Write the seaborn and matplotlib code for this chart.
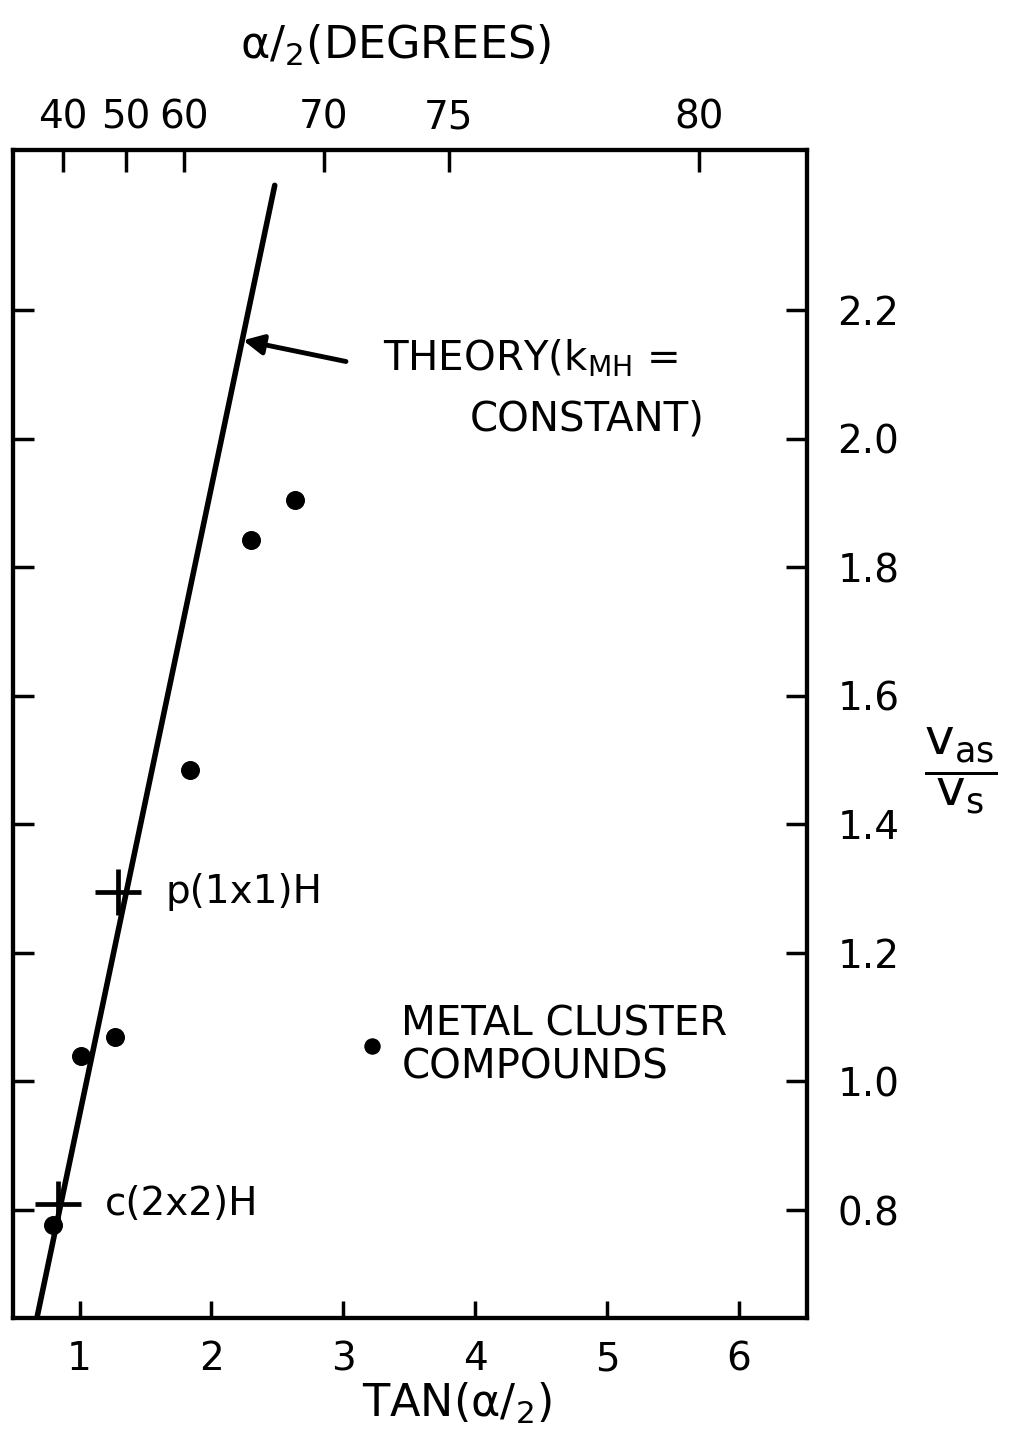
import numpy as np
import matplotlib
matplotlib.use("Agg")
import matplotlib.pyplot as plt
import seaborn as sns

# ---- data ----
tan_ticks = [1, 2, 3, 4, 5, 6]
ratio_ticks = [0.8, 1.0, 1.2, 1.4, 1.6, 1.8, 2.0, 2.2]
deg_ticks = [40, 50, 60, 70, 75, 80]
deg_tick_pos = [0.875, 1.35, 1.79, 2.85, 3.80, 5.70]   # where the degree ticks are drawn (tan scale)

theory_x = [0.675, 2.48]
theory_y = [0.63, 2.394]

metal_x = [0.80, 1.01, 1.27, 1.84, 2.30, 2.63]
metal_y = [0.777, 1.039, 1.069, 1.484, 1.842, 1.904]

surface_labels = ["c(2x2)H", "p(1x1)H"]
surface_x = [0.835, 1.29]
surface_y = [0.81, 1.294]

key_dot_x = [3.22]
key_dot_y = [1.055]

sns.set_style("ticks")
plt.rcParams["font.family"] = ["DejaVu Sans"]
plt.rcParams["mathtext.fontset"] = "dejavusans"
plt.rcParams["mathtext.default"] = "regular"
for k in ["text.color", "axes.labelcolor", "xtick.color", "ytick.color", "axes.edgecolor"]:
    plt.rcParams[k] = "black"

fig = plt.figure(figsize=(10.17, 14.30), dpi=100)
ax = fig.add_axes([0.0128, 0.0783, 0.7807, 0.8168])

sns.lineplot(x=theory_x, y=theory_y, ax=ax, color="black", linewidth=4, legend=False)
sns.scatterplot(x=metal_x, y=metal_y, ax=ax, color="black", s=160, edgecolor="black", legend=False)
sns.scatterplot(x=key_dot_x, y=key_dot_y, ax=ax, color="black", s=120, edgecolor="black", legend=False)
sns.scatterplot(x=surface_x, y=surface_y, ax=ax, color="black", marker="+", s=1100,
                linewidth=3.4, legend=False)

ax.set_xlim(0.496, 6.515)
ax.set_ylim(0.632, 2.449)
ax.set_xticks(tan_ticks)
ax.set_xticklabels([str(t) for t in tan_ticks])
ax.set_yticks(ratio_ticks)
ax.set_yticklabels([f"{v:.1f}" for v in ratio_ticks])
ax.tick_params(axis="x", bottom=True, top=False, direction="in", length=12, width=2.5,
               pad=16, labelsize=28)
ax.tick_params(axis="y", left=True, right=True, labelleft=False, labelright=True,
               direction="in", length=15, width=2.5, pad=22, labelsize=28)
for sp in ax.spines.values():
    sp.set_visible(True)
    sp.set_linewidth(3)
    sp.set_color("black")

# top axis in degrees
ax2 = ax.twiny()
ax2.set_xlim(ax.get_xlim())
ax2.set_xticks(deg_tick_pos)
ax2.set_xticklabels([str(d) for d in deg_ticks])
ax2.tick_params(axis="x", direction="in", length=16, width=2.5, pad=10, labelsize=28)
for sp in ax2.spines.values():
    sp.set_linewidth(3)
    sp.set_color("black")

# axis titles
fig.text(395 / 1017, 1 - 45 / 1430, r"$\alpha/_2$(DEGREES)", ha="center", va="center",
         fontsize=32)
fig.text(457 / 1017, 1 - 1403 / 1430, r"TAN($\alpha/_2$)", ha="center", va="center",
         fontsize=32)
ax.yaxis.set_label_position("right")
ax.set_ylabel(r"$\dfrac{v_{as}}{v_s}$", rotation=0, fontsize=36, ha="center", va="center")
ax.yaxis.set_label_coords(1.193, 0.469)

# annotations
ax.annotate("", xy=(2.24, 2.153), xytext=(3.02, 2.12),
            arrowprops=dict(arrowstyle="-|>", color="black", lw=3.5, mutation_scale=30,
                            shrinkA=0, shrinkB=0))
ax.text(3.30, 2.125, r"THEORY(k$_{MH}$ =", ha="left", va="center", fontsize=29)
ax.text(3.96, 2.029, "CONSTANT)", ha="left", va="center", fontsize=29)

for lab, x, y in zip(surface_labels, surface_x, surface_y):
    ax.text(x + 0.36, y, lab, ha="left", va="center", fontsize=28)

ax.text(key_dot_x[0] + 0.22, key_dot_y[0], "METAL CLUSTER\nCOMPOUNDS", ha="left",
        va="center", fontsize=29, linespacing=1.1)

fig.savefig("out.png", dpi=100)
